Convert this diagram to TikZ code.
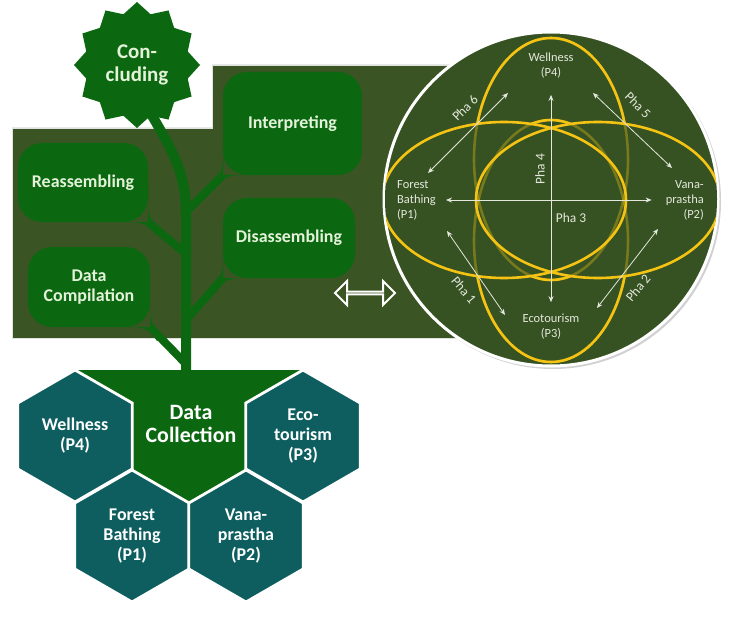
\documentclass[tikz,border=0pt]{standalone}
\usepackage{fontspec}
\setmainfont{Carlito}
\usetikzlibrary{shapes.geometric,shapes.arrows,arrows.meta}
\definecolor{panelgreen}{RGB}{58,84,36}
\definecolor{circgreen}{RGB}{54,82,34}
\definecolor{leafgreen}{RGB}{12,104,16}
\definecolor{leaftext}{RGB}{228,242,218}
\definecolor{hexteal}{RGB}{14,94,96}
\definecolor{ringgold}{RGB}{245,195,20}
\definecolor{arrowgray}{RGB}{228,232,220}
\begin{document}
\begin{tikzpicture}[x=1bp, y=-1bp,
    leafbox/.style = {fill=leafgreen, rounded corners=24bp, text=leaftext, font=\bfseries\fontsize{18}{20}\selectfont, align=center, inner sep=0},
    branch/.style = {draw=leafgreen, line width=8bp},
    hexa/.style = {regular polygon, regular polygon sides=6, shape border rotate=30, minimum size=132bp, fill=hexteal, draw=white, line width=2.8bp, text=white, font=\bfseries\fontsize{18}{20}\selectfont, align=center, inner sep=0},
    ring/.style = {draw=ringgold, line width=2.6bp},
    pharrow/.style = {draw=arrowgray, line width=0.8bp, {Stealth[length=6bp,width=5bp]}-{Stealth[length=6bp,width=5bp]}},
    lbl/.style = {text=arrowgray, font=\fontsize{12.5}{15}\selectfont, align=center, inner sep=0},
    pha/.style = {text=arrowgray, font=\fontsize{13.5}{15}\selectfont, inner sep=0}]
    \useasboundingbox (0,0) rectangle (730,618);

    % panel behind the tree
    \fill[panelgreen, draw=black!12, line width=0.6bp] (12,128) -- (212,128) -- (212,65) -- (470,65) -- (470,338) -- (12,338) -- cycle;

    % data collection base
    \fill[leafgreen] (75,370) -- (303,370) -- (246,403) -- (246,469) -- (189,502) -- (132,469) -- (132,403) -- cycle;
    \node[text=white, font=\bfseries\fontsize{22}{24}\selectfont, align=center, inner sep=0] (dc) at (191,424) {Data\\Collection};

    % hexagons
    \node[hexa] (p4) at (75,436) {Wellness\\(P4)};
    \node[hexa] (p3) at (303,436) {Eco-\\tourism\\(P3)};
    \node[hexa] (p1) at (132,536) {Forest\\Bathing\\(P1)};
    \node[hexa] (p2) at (246,536) {Vana-\\prastha\\(P2)};

    % stem
    \draw[leafgreen, line width=10bp] (140,95) .. controls (172,150) and (186,170) .. (186,215) -- (186,372);
    \coordinate (j1) at (186,212);
    \coordinate (j2) at (186,254);
    \coordinate (j3) at (186,320);
    \coordinate (j4) at (186,364);

    % leaves
    \node[leafbox, minimum width=139bp, minimum height=103bp] (interp) at (292.5,123.5) {Interpreting};
    \node[leafbox, minimum width=130bp, minimum height=79bp] (reas) at (83,182.5) {Reassembling};
    \node[leafbox, minimum width=132bp, minimum height=80bp] (disas) at (289,238) {Disassembling};
    \node[leafbox, minimum width=122bp, minimum height=80bp] (comp) at (89,287) {Data\\Compilation};

    \draw[branch] (interp.south west) -- (j1);
    \draw[branch] (reas.south east) -- (j2);
    \draw[branch] (disas.south west) -- (j3);
    \draw[branch] (comp.south east) -- (j4);

    \fill[leafgreen] (223,140) .. controls (223,172) .. (209,183) -- (215,189) .. controls (226,175) .. (258,175) -- (223,175) -- cycle;
    \fill[leafgreen] (148,187) .. controls (148,219) .. (162,229) -- (156,235) .. controls (145,222) .. (113,222) -- (148,222) -- cycle;
    \fill[leafgreen] (223,243) .. controls (223,275) .. (210,286) -- (216,292) .. controls (226,278) .. (258,278) -- (223,278) -- cycle;
    \fill[leafgreen] (150,292) .. controls (150,324) .. (163,335) -- (157,341) .. controls (147,327) .. (115,327) -- (150,327) -- cycle;

    % top of the tree
    \node[star, star points=12, star point ratio=1.2, minimum size=126bp, fill=leafgreen, text=leaftext, font=\bfseries\fontsize{21}{23}\selectfont, align=center, inner sep=0] (conc) at (137,65) {Con-\\cluding};

    % link to the circle
    \node[double arrow, fill=panelgreen, draw=white, line width=2bp, minimum height=60bp, minimum width=24bp, double arrow head extend=7.5bp, double arrow head indent=0bp, inner sep=0] (link) at (365,293) {};

    % circle with the four ellipses
    \fill[black!18] (553,201) circle [radius=168];
    \draw[white, line width=3bp, fill=circgreen] (551,199) circle [radius=167];
    \begin{scope}
        \clip (551,199) circle [radius=166];
        \draw[ring] (551,159) ellipse [x radius=77, y radius=121];
        \draw[ring] (551,241) ellipse [x radius=77, y radius=121];
        \fill[circgreen] (504,200) ellipse [x radius=122, y radius=78];
        \fill[circgreen] (598,200) ellipse [x radius=122, y radius=78];
        \draw[ring, opacity=0.35] (551,159) ellipse [x radius=77, y radius=121];
        \draw[ring, opacity=0.35] (551,241) ellipse [x radius=77, y radius=121];
        \draw[ring] (504,200) ellipse [x radius=122, y radius=78];
        \draw[ring] (598,200) ellipse [x radius=122, y radius=78];
    \end{scope}

    \node[lbl] (p4c) at (551,66) {Wellness\\(P4)};
    \node[lbl, align=left, anchor=west] (p1c) at (397,200) {Forest\\Bathing\\(P1)};
    \node[lbl, align=right, anchor=east] (p2c) at (704,200) {Vana-\\prastha\\(P2)};
    \node[lbl] (p3c) at (551,327) {Ecotourism\\(P3)};

    \draw[pharrow, shorten <=10bp, shorten >=14bp] (p1c) -- (p2c);
    \draw[pharrow, shorten <=16bp, shorten >=12bp] (p4c) -- (p3c);

    \coordinate (d6a) at (428,173);
    \coordinate (d6b) at (508,93);
    \coordinate (d5a) at (593,93);
    \coordinate (d5b) at (672,168);
    \coordinate (d1a) at (447,231);
    \coordinate (d1b) at (505,315);
    \coordinate (d2a) at (658,229);
    \coordinate (d2b) at (597,308);
    \draw[pharrow] (d6a) -- (d6b);
    \draw[pharrow] (d5a) -- (d5b);
    \draw[pharrow] (d1a) -- (d1b);
    \draw[pharrow] (d2a) -- (d2b);

    \node[pha, rotate=45] (pha6) at (465,108) {Pha 6};
    \node[pha, rotate=-45] (pha5) at (638,105) {Pha 5};
    \node[pha, rotate=-50] (pha1) at (464,290) {Pha 1};
    \node[pha, rotate=50] (pha2) at (638,288) {Pha 2};
    \node[pha, rotate=90] (pha4) at (540,169) {Pha 4};
    \node[pha] (pha3) at (571,218) {Pha 3};
\end{tikzpicture}
\end{document}
